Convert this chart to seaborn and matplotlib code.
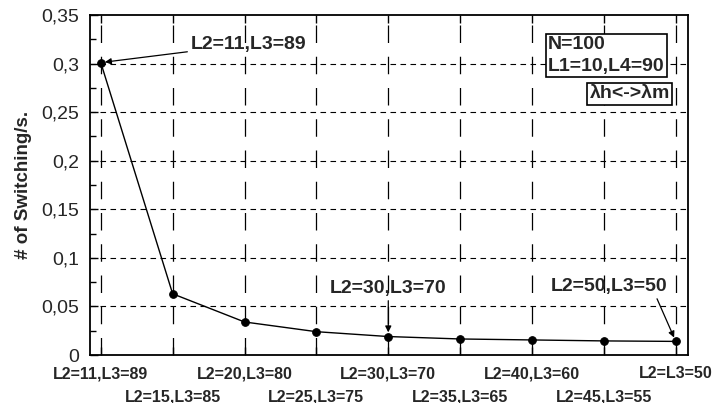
import matplotlib
matplotlib.use("Agg")
import matplotlib.pyplot as plt
from matplotlib.ticker import MultipleLocator, FuncFormatter
from matplotlib.transforms import ScaledTranslation
import seaborn as sns
import pandas as pd

# Switching rate for each (L2, L3) threshold pair
configs = ["L2=11,L3=89", "L2=15,L3=85", "L2=20,L3=80", "L2=25,L3=75",
           "L2=30,L3=70", "L2=35,L3=65", "L2=40,L3=60", "L2=45,L3=55",
           "L2=L3=50"]
switching = [0.301, 0.063, 0.034, 0.024, 0.019, 0.0165, 0.0155, 0.0145, 0.014]
y_ticks = [0, 0.05, 0.1, 0.15, 0.2, 0.25, 0.3, 0.35]

df = pd.DataFrame({"idx": range(len(configs)), "rate": switching})

sns.set_theme(style="white")
plt.rcParams["font.family"] = ["Liberation Sans", "DejaVu Sans"]

fig = plt.figure(figsize=(7.14, 4.03), dpi=100)
ax = fig.add_axes([90 / 714, 1 - 355 / 403, 598 / 714, 340 / 403])

sns.lineplot(data=df, x="idx", y="rate", ax=ax, color="black", lw=1.0,
             marker="o", markersize=5.5, markeredgecolor="black")

ax.set_xlim(-0.15, 8.17)
ax.set_ylim(0, 0.35)
ax.set_yticks(y_ticks)
ax.yaxis.set_minor_locator(MultipleLocator(0.025))
ax.yaxis.set_major_formatter(FuncFormatter(
    lambda v, p: "0" if v == 0 else f"{v:g}".replace(".", ",")))
ax.tick_params(axis="y", which="both", direction="in", left=True,
               labelsize=14, length=6, width=1, color="black", pad=8)
ax.tick_params(axis="y", which="minor", length=4)

# x labels alternate between two rows
ax.set_xticks(range(len(configs)))
ax.set_xticklabels(configs, fontweight="bold", fontsize=11.5)
ax.tick_params(axis="x", direction="in", bottom=True, top=True,
               length=6, width=1, color="black", pad=8)
drop = ScaledTranslation(0, -0.23, fig.dpi_scale_trans)
for i, lab in enumerate(ax.get_xticklabels()):
    if i % 2 == 1:
        lab.set_transform(lab.get_transform() + drop)

for yv in y_ticks[1:-1]:
    ax.axhline(yv, color="black", lw=0.8, ls=(0, (5, 4)), zorder=0)
for xv in range(len(configs)):
    ax.axvline(xv, color="black", lw=0.9, ls=(0, (14, 11)), zorder=0)

for s in ax.spines.values():
    s.set_color("black")
    s.set_linewidth(1.3)

ax.set_xlabel("")
ax.set_ylabel("# of Switching/s.", fontweight="bold", fontsize=13.5)
ax.yaxis.set_label_coords(-0.097, 0.5)

arrow = dict(arrowstyle="-|>", color="black", lw=0.9, mutation_scale=9,
             shrinkA=0, shrinkB=3)
ax.annotate(configs[0], xy=(0, switching[0]), xytext=(1.25, 0.32),
            fontweight="bold", fontsize=14, va="center", ha="left",
            arrowprops=arrow)
ax.annotate(configs[4], xy=(4, switching[4]), xytext=(4, 0.068),
            fontweight="bold", fontsize=14, va="center", ha="center",
            arrowprops=arrow)
ax.annotate("L2=50,L3=50", xy=(8, switching[8]), xytext=(7.07, 0.07),
            fontweight="bold", fontsize=14, va="center", ha="center",
            arrowprops=dict(arrow, relpos=(0.9, 0)))

box = dict(boxstyle="square,pad=0.12", fc="white", ec="black", lw=1.2)
ax.text(6.22, 0.328, "N=100\nL1=10,L4=90", fontweight="bold", fontsize=14,
        va="top", ha="left", linespacing=1.35, bbox=box, zorder=5)
ax.text(7.92, 0.269, "λh<->λm", fontweight="bold", fontsize=14,
        va="center", ha="right", bbox=box, zorder=5)

fig.savefig("out.png", dpi=100)
